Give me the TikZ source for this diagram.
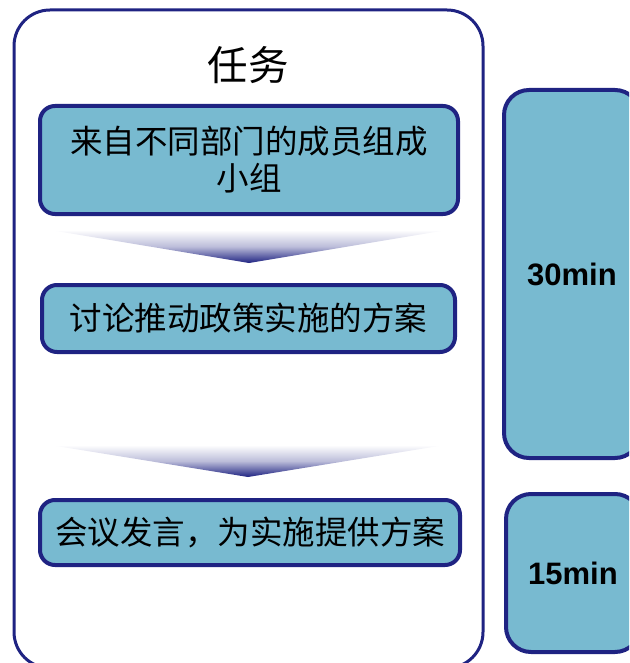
\documentclass[tikz,border=0pt]{standalone}
\usepackage{fontspec}
\setmainfont{Liberation Sans}
\newfontfamily\cjk{Noto Sans CJK SC}
\definecolor{boxfill}{RGB}{120,186,208}
\definecolor{navy}{RGB}{31,35,130}
\begin{document}
\begin{tikzpicture}[x=1pt,y=-1pt,
  task/.style={draw=navy,line width=4pt,fill=boxfill,rounded corners=15pt,inner sep=0pt,align=center,font=\cjk\fontsize{32.5}{37}\selectfont},
  timebox/.style={draw=navy,line width=4pt,fill=boxfill,rounded corners=25pt,inner sep=0pt,font=\bfseries\fontsize{31}{36}\selectfont}]
\useasboundingbox (0,0) rectangle (629,663);
\clip (0,0) rectangle (629,663);
\draw[navy,line width=3pt,rounded corners=36pt] (14,10) rectangle (483,668);
\node[font=\cjk\fontsize{40.5}{44}\selectfont] (title) at (248,65) {任务};
\node[task,minimum width=418pt,minimum height=108pt] (b1) at (249,160) {来自不同部门的成员组成\\小组};
\node[task,minimum width=413pt,minimum height=67pt] (b2) at (248.5,318.5) {讨论推动政策实施的方案};
\node[task,minimum width=420pt,minimum height=65pt] (b3) at (250,532.5) {会议发言，为实施提供方案};
\shade[top color=white,bottom color=navy,middle color=white!70!navy] (50,230) -- (447,230) -- (249,263) -- cycle;
\shade[top color=white,bottom color=navy,middle color=white!70!navy] (50,445) -- (445,445) -- (248,477) -- cycle;
\node[timebox,minimum width=136pt,minimum height=368pt] (t1) at (572,274) {30min};
\node[timebox,minimum width=134pt,minimum height=158pt] (t2) at (573,573) {15min};
\end{tikzpicture}
\end{document}
